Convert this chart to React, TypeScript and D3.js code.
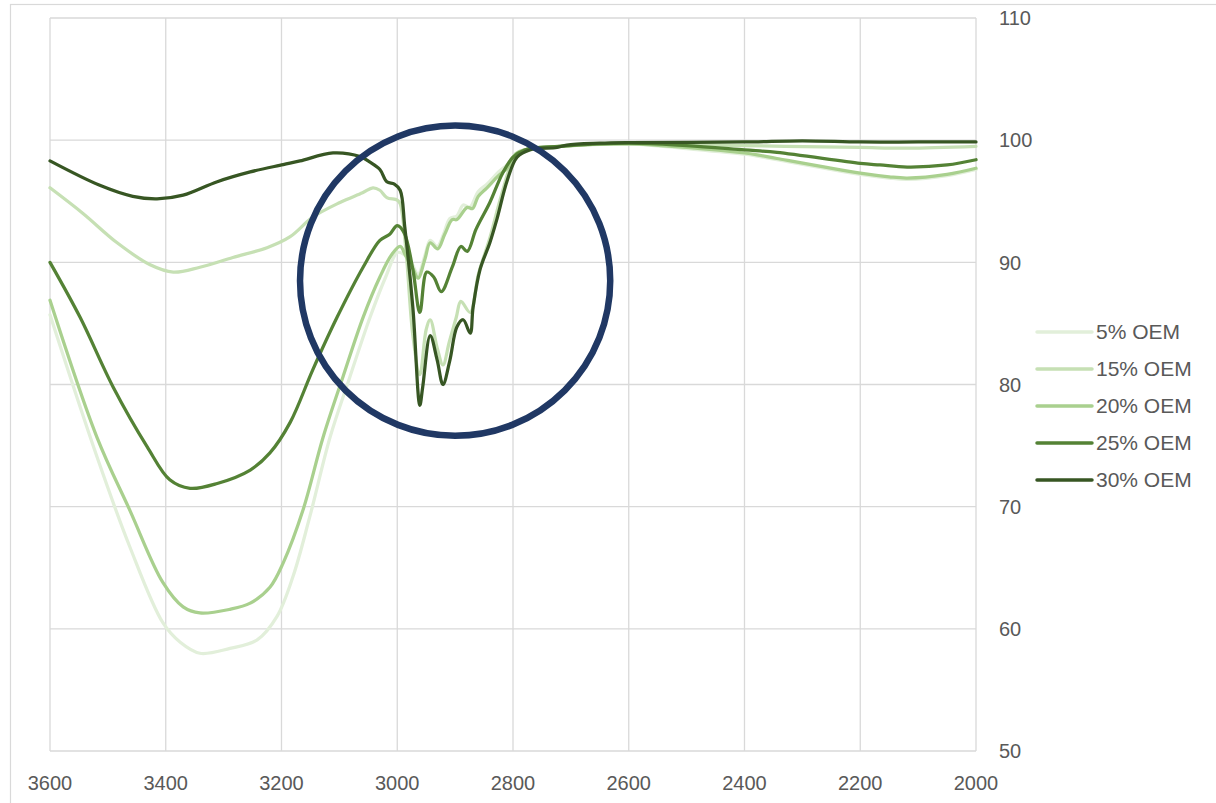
import React from "react";
import * as d3 from "d3";

type Pt = [number, number];

const seriesNames = ["5% OEM", "15% OEM", "20% OEM", "25% OEM", "30% OEM"];
const seriesColors = ["#e2efda", "#c6e0b4", "#a9d08e", "#548235", "#375623"];

const oem5: Pt[] = [
  [3600, 85.7], [3519, 74.1], [3462, 66.7], [3405, 60.5], [3375, 58.9], [3341, 58.0],
  [3289, 58.4], [3242, 59.1], [3208, 61.0], [3180, 64.3], [3151, 69.2], [3116, 75.7],
  [3082, 80.6], [3047, 85.5], [3020, 88.8], [3000, 90.8], [2990, 90.7], [2975, 89.9],
  [2964, 89.0], [2952, 90.6], [2943, 91.8], [2931, 91.3], [2920, 92.3], [2909, 93.6],
  [2897, 93.8], [2886, 94.7], [2875, 94.5], [2860, 95.8], [2845, 96.4], [2825, 97.4],
  [2810, 98.0], [2795, 98.9], [2780, 99.2], [2720, 99.5], [2600, 99.7], [2500, 99.3],
  [2400, 98.85], [2378, 98.7], [2344, 98.4], [2200, 97.2], [2150, 96.9], [2119, 96.8],
  [2050, 97.1], [2000, 97.6],
];

const oem15: Pt[] = [
  [3600, 96.1], [3543, 94.0], [3484, 91.6], [3427, 89.8], [3387, 89.2], [3341, 89.6],
  [3284, 90.4], [3225, 91.2], [3185, 92.1], [3146, 93.7], [3099, 94.9], [3060, 95.7],
  [3042, 96.1], [3030, 95.9], [3018, 95.3], [3000, 95.1], [2995, 94.8], [2985, 91.0],
  [2973, 84.0], [2961, 80.8], [2950, 84.5], [2943, 85.3], [2931, 83.0], [2921, 81.6],
  [2910, 83.5], [2898, 85.5], [2890, 86.8], [2874, 85.9], [2860, 89.0], [2840, 92.0],
  [2820, 95.5], [2800, 98.3], [2780, 99.2], [2720, 99.5], [2600, 99.7], [2400, 99.55],
  [2200, 99.4], [2119, 99.35], [2000, 99.5],
];

const oem20: Pt[] = [
  [3600, 86.9], [3519, 75.7], [3462, 69.7], [3405, 63.8], [3370, 61.8], [3341, 61.3],
  [3289, 61.6], [3254, 62.1], [3220, 63.4], [3197, 65.4], [3163, 69.7], [3128, 75.7],
  [3094, 80.6], [3059, 85.5], [3030, 88.8], [3010, 90.6], [2995, 91.3], [2985, 90.5],
  [2973, 89.5], [2964, 88.7], [2952, 90.3], [2943, 91.6], [2930, 91.1], [2918, 92.3],
  [2905, 93.5], [2897, 93.5], [2879, 94.5], [2870, 94.4], [2860, 95.4], [2845, 96.1],
  [2825, 97.1], [2810, 97.7], [2795, 98.9], [2780, 99.2], [2720, 99.5], [2600, 99.7],
  [2500, 99.4], [2400, 98.95], [2378, 98.8], [2344, 98.5], [2200, 97.3], [2150, 97.0],
  [2119, 96.9], [2050, 97.2], [2000, 97.7],
];

const oem25: Pt[] = [
  [3600, 90.0], [3548, 85.5], [3491, 79.8], [3432, 74.9], [3393, 72.2], [3358, 71.5],
  [3311, 71.9], [3254, 73.0], [3220, 74.4], [3185, 76.9], [3146, 81.2], [3104, 85.5],
  [3059, 89.6], [3030, 91.8], [3013, 92.3], [3000, 93.0], [2988, 92.4], [2973, 89.4],
  [2961, 85.9], [2949, 89.2], [2937, 88.8], [2924, 87.6], [2905, 89.6], [2890, 91.3],
  [2879, 90.9], [2864, 92.7], [2840, 94.9], [2818, 97.3], [2800, 98.6], [2780, 99.2],
  [2720, 99.5], [2600, 99.75], [2500, 99.55], [2400, 99.2], [2344, 99.0], [2200, 98.1],
  [2166, 97.97], [2119, 97.8], [2050, 97.97], [2000, 98.4],
];

const oem30: Pt[] = [
  [3600, 98.3], [3514, 96.3], [3457, 95.4], [3415, 95.2], [3370, 95.5], [3311, 96.6],
  [3254, 97.4], [3197, 98.0], [3168, 98.3], [3111, 98.95], [3064, 98.65], [3047, 98.2],
  [3030, 97.6], [3018, 96.6], [3005, 96.4], [2995, 95.9], [2987, 92.9], [2973, 86.3],
  [2961, 78.3], [2956, 79.8], [2943, 84.0], [2931, 82.0], [2921, 80.0], [2909, 82.0],
  [2897, 84.7], [2886, 85.3], [2874, 84.2], [2869, 86.3], [2857, 89.4], [2840, 91.6],
  [2828, 93.5], [2810, 96.7], [2793, 98.6], [2771, 99.2], [2724, 99.4], [2707, 99.6],
  [2650, 99.75], [2600, 99.8], [2400, 99.85], [2300, 99.95], [2200, 99.85], [2100, 99.85],
  [2000, 99.85],
];

const seriesData: Pt[][] = [oem5, oem15, oem20, oem25, oem30];

const xTicks = [3600, 3400, 3200, 3000, 2800, 2600, 2400, 2200, 2000];
const yTicks = [50, 60, 70, 80, 90, 100, 110];

// highlight circle annotation (in data units: center wavenumber / value, radius in cm-1)
const circleCenter: Pt = [2900, 88.5];
const circleRadiusWn = 268;

export default function App() {
  const W = 1216;
  const H = 803;
  const left = 50;
  const right = 976;
  const top = 18;
  const bottom = 751;

  const x = d3.scaleLinear().domain([3600, 2000]).range([left, right]);
  const y = d3.scaleLinear().domain([50, 110]).range([bottom, top]);

  const line = d3
    .line<Pt>()
    .x((d) => x(d[0]))
    .y((d) => y(d[1]))
    .curve(d3.curveCatmullRom.alpha(0.5));

  const font = "'Liberation Sans', Arial, sans-serif";
  const textColor = "#595959";
  const grid = "#d9d9d9";

  const legendX1 = 1037;
  const legendX2 = 1092;
  const legendY0 = 332;
  const legendDy = 37;

  const cr = Math.abs(x(3600) - x(3600 - circleRadiusWn));

  return (
    <div style={{ position: "absolute", left: 0, top: 0 }}>
      <svg width={W} height={H} style={{ display: "block", background: "#fff" }}>
        <rect x={10.5} y={4.5} width={1300} height={900} fill="#fff" stroke={grid} strokeWidth={1.2} />
        {yTicks.map((t) => (
          <line key={"gy" + t} x1={left} x2={right} y1={y(t)} y2={y(t)} stroke={grid} strokeWidth={1.3} />
        ))}
        {xTicks.map((t) => (
          <line key={"gx" + t} x1={x(t)} x2={x(t)} y1={top} y2={bottom} stroke={grid} strokeWidth={1.3} />
        ))}
        {xTicks.map((t) => (
          <text
            key={"tx" + t}
            x={x(t)}
            y={790}
            textAnchor="middle"
            fontFamily={font}
            fontSize={20}
            fill={textColor}
          >
            {t}
          </text>
        ))}
        {yTicks.map((t) => (
          <text
            key={"ty" + t}
            x={999}
            y={y(t)}
            dy="0.36em"
            textAnchor="start"
            fontFamily={font}
            fontSize={20}
            fill={textColor}
          >
            {t}
          </text>
        ))}
        {seriesData.map((d, i) => (
          <path
            key={"s" + i}
            d={line(d) || ""}
            fill="none"
            stroke={seriesColors[i]}
            strokeWidth={3.25}
            strokeLinejoin="round"
            strokeLinecap="round"
          />
        ))}
        <circle
          cx={x(circleCenter[0])}
          cy={y(circleCenter[1])}
          r={cr}
          fill="none"
          stroke="#203864"
          strokeWidth={6.5}
        />
        {seriesNames.map((n, i) => (
          <g key={"lg" + i}>
            <line
              x1={legendX1}
              x2={legendX2}
              y1={legendY0 + i * legendDy}
              y2={legendY0 + i * legendDy}
              stroke={seriesColors[i]}
              strokeWidth={3.5}
              strokeLinecap="round"
            />
            <text
              x={legendX2 + 4}
              y={legendY0 + i * legendDy}
              dy="0.35em"
              fontFamily={font}
              fontSize={21}
              fill={textColor}
            >
              {n}
            </text>
          </g>
        ))}
      </svg>
    </div>
  );
}
